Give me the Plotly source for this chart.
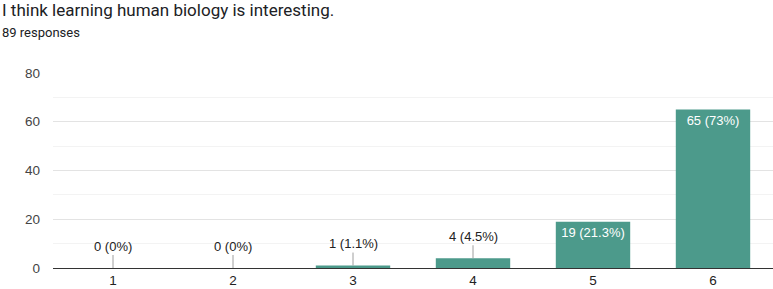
import plotly.graph_objects as go

categories = ["1", "2", "3", "4", "5", "6"]
counts = [0, 0, 1, 4, 19, 65]
labels = ["0 (0%)", "0 (0%)", "1 (1.1%)", "4 (4.5%)", "19 (21.3%)", "65 (73%)"]
inside = [False, False, False, False, True, True]
y_ticks = [0, 20, 40, 60, 80]

BAR = "#4c9a8b"
FONT = "Roboto, Arial, sans-serif"
CFONT = "Liberation Sans, Arial, sans-serif"

fig = go.Figure()
fig.add_trace(go.Bar(
    x=categories, y=counts,
    marker=dict(color=BAR, line=dict(width=0)),
    text=[l if i else "" for l, i in zip(labels, inside)],
    textposition="inside", insidetextanchor="end",
    textfont=dict(color="white", size=13, family=CFONT),
    textangle=0, hoverinfo="skip",
))

for idx, (v, l, i) in enumerate(zip(counts, labels, inside)):
    if not i:
        fig.add_annotation(
            x=idx, y=v, text=l, showarrow=True, ax=0, ay=-22,
            arrowhead=0, arrowwidth=1, arrowcolor="#9e9e9e", standoff=0,
            font=dict(size=13, color="#222222", family=CFONT),
        )

fig.add_annotation(xref="paper", yref="paper", x=-53/720, y=1 + 63/195,
                   xanchor="left", yanchor="middle", showarrow=False,
                   text="I think learning human biology is interesting.",
                   font=dict(size=17, color="#202124", family=FONT))
fig.add_annotation(xref="paper", yref="paper", x=-53/720, y=1 + 41/195,
                   xanchor="left", yanchor="middle", showarrow=False,
                   text="89 responses",
                   font=dict(size=13, color="#202124", family=FONT))

fig.update_layout(
    width=773, height=289,
    margin=dict(l=53, r=0, t=73, b=21),
    paper_bgcolor="white", plot_bgcolor="white",
    showlegend=False, bargap=0.38,
    font=dict(family=CFONT, size=13, color="#222222"),
    uniformtext=dict(minsize=12, mode="show"),
)
fig.update_xaxes(type="category", showgrid=False, showline=True, linecolor="#333333",
                 linewidth=1, ticks="", tickfont=dict(size=13.5, color="#222222",
                                                      family=CFONT))
fig.update_yaxes(range=[0, 80], tickvals=y_ticks, showgrid=True, gridcolor="#e3e3e3",
                 zeroline=False, ticks="", ticklabelstandoff=12, showline=False,
                 tickfont=dict(size=13.5, color="#444444", family=CFONT),
                 minor=dict(dtick=10, showgrid=True, gridcolor="#f3f3f3"))

fig.write_html("out.html", config={"displayModeBar": False},
               post_script="document.body.style.margin='0';document.body.style.overflow='hidden';")
